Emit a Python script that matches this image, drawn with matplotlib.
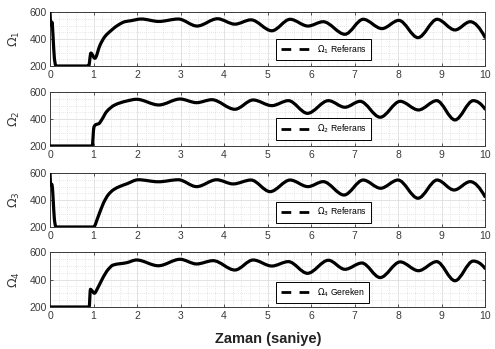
import numpy as np
import matplotlib
matplotlib.use("Agg")
import matplotlib.pyplot as plt
from matplotlib.path import Path
from matplotlib.patches import PathPatch
from matplotlib.lines import Line2D
from matplotlib.ticker import MultipleLocator

plt.rcParams['font.family'] = ['Liberation Sans', 'DejaVu Sans']
plt.rcParams['mathtext.fontset'] = 'dejavusans'

# ---- data ----
t1 = [0, 0.015, 0.03, 0.045, 0.07, 0.1, 0.13, 0.16, 0.89, 0.94, 1.03, 1.15, 1.26, 1.42, 1.57,
      1.72, 1.85, 2.1, 2.5, 2.95, 3.38, 3.85, 4.25, 4.62, 5.1, 5.52, 5.93, 6.28, 6.78, 7.2,
      7.63, 8.02, 8.46, 8.9, 9.31, 9.66, 10]
v1 = [600, 520, 500, 525, 420, 260, 205, 200, 200, 296, 257, 355, 417, 467, 504,
      528, 535, 548, 530, 548, 496, 550, 510, 542, 461, 546, 496, 528, 435, 546,
      477, 538, 410, 546, 467, 528, 413]

t2 = [0, 0.97, 1.01, 1.05, 1.12, 1.2, 1.3, 1.49, 1.76, 1.99, 2.5, 2.99, 3.37, 3.72, 4.25,
      4.67, 5.1, 5.48, 5.92, 6.4, 6.78, 7.13, 7.59, 8.05, 8.47, 8.89, 9.31, 9.73, 10]
v2 = [200, 200, 340, 358, 365, 400, 454, 504, 533, 546, 504, 548, 521, 543, 472,
      541, 499, 536, 442, 536, 487, 531, 413, 531, 467, 536, 393, 536, 474]

t3 = [0, 0.015, 0.03, 0.045, 0.07, 0.1, 0.13, 0.16, 1.0, 1.11, 1.23, 1.34, 1.46, 1.61, 1.76,
      2.03, 2.49, 2.95, 3.37, 3.83, 4.21, 4.62, 5.06, 5.52, 5.93, 6.28, 6.76, 7.2, 7.6,
      8.0, 8.46, 8.9, 9.29, 9.66, 10]
v3 = [600, 520, 510, 515, 420, 260, 205, 200, 200, 279, 378, 439, 476, 501, 519,
      550, 535, 550, 499, 550, 519, 548, 462, 548, 499, 536, 437, 548, 487,
      548, 413, 548, 474, 536, 425]

t4 = [0, 0.9, 0.93, 0.96, 1.02, 1.1, 1.21, 1.33, 1.45, 1.76, 1.99, 2.49, 2.99, 3.37, 3.75,
      4.25, 4.67, 5.1, 5.48, 5.92, 6.4, 6.78, 7.17, 7.59, 8.05, 8.47, 8.89, 9.31, 9.73, 10]
v4 = [200, 200, 329, 320, 300, 340, 409, 470, 505, 522, 542, 500, 547, 513, 537,
      469, 542, 498, 530, 445, 540, 474, 520, 414, 528, 464, 530, 391, 534, 481]

ylabels = [r'$\Omega_1$', r'$\Omega_2$', r'$\Omega_3$', r'$\Omega_4$']
legend_labels = [r'$\Omega_1$ Referans', r'$\Omega_2$ Referans',
                 r'$\Omega_3$ Referans', r'$\Omega_4$ Gereken']
xticks = list(range(0, 11))
yticks = [200, 400, 600]
xlabel = 'Zaman (saniye)'

series = [(t1, v1), (t2, v2), (t3, v3), (t4, v4)]


def pchip_slopes(x, y):
    x = np.asarray(x, float); y = np.asarray(y, float)
    h = np.diff(x); d = np.diff(y) / h
    n = len(x)
    m = np.zeros(n)
    for k in range(1, n - 1):
        if d[k - 1] * d[k] <= 0:
            m[k] = 0.0
        else:
            w1 = 2 * h[k] + h[k - 1]
            w2 = h[k] + 2 * h[k - 1]
            m[k] = (w1 + w2) / (w1 / d[k - 1] + w2 / d[k])

    def edge(h0, h1, d0, d1):
        s = ((2 * h0 + h1) * d0 - h0 * d1) / (h0 + h1)
        if np.sign(s) != np.sign(d0):
            s = 0.0
        elif np.sign(d0) != np.sign(d1) and abs(s) > abs(3 * d0):
            s = 3 * d0
        return s
    m[0] = edge(h[0], h[1], d[0], d[1])
    m[-1] = edge(h[-1], h[-2], d[-1], d[-2])
    return m


def smooth_path(x, y):
    x = np.asarray(x, float); y = np.asarray(y, float)
    m = pchip_slopes(x, y)
    verts = [(x[0], y[0])]
    codes = [Path.MOVETO]
    for i in range(len(x) - 1):
        h = x[i + 1] - x[i]
        verts += [(x[i] + h / 3, y[i] + m[i] * h / 3),
                  (x[i + 1] - h / 3, y[i + 1] - m[i + 1] * h / 3),
                  (x[i + 1], y[i + 1])]
        codes += [Path.CURVE4] * 3
    return Path(verts, codes)


W, H = 495, 349
fig = plt.figure(figsize=(W / 100, H / 100), dpi=100)

panel_px = [(12, 66), (92, 146), (173, 227), (252, 307)]
legend_anchor_y = [0.11, 0.12, 0.08, 0.07]
left_px, right_px = 50, 485
tc = '#3a3a3a'

for i, ((tt, vv), (ytop, ybot)) in enumerate(zip(series, panel_px)):
    ax = fig.add_axes([left_px / W, 1 - ybot / H, (right_px - left_px) / W, (ybot - ytop) / H])
    ax.set_xlim(0, 10)
    ax.set_ylim(200, 600)
    ax.set_xticks(xticks)
    ax.set_yticks(yticks)
    ax.xaxis.set_minor_locator(MultipleLocator(0.2))
    ax.yaxis.set_minor_locator(MultipleLocator(50))
    ax.grid(True, which='major', color='#dedede', lw=0.6, ls='-')
    ax.grid(True, which='minor', color='#d0d0d0', lw=0.5, ls=(0, (1, 2)))
    ax.set_axisbelow(True)
    ax.tick_params(which='major', direction='in', length=2.5, width=0.6, top=True, right=True,
                   labelsize=7.5, labelcolor=tc, color=tc, pad=2)
    ax.tick_params(axis='x', which='major', pad=3)
    ax.tick_params(which='minor', length=0, top=True, right=True)
    for sp in ax.spines.values():
        sp.set_color(tc)
        sp.set_linewidth(0.7)

    patch = PathPatch(smooth_path(tt, vv), fill=False, edgecolor='black', lw=2.3,
                      capstyle='round', joinstyle='round', zorder=3)
    ax.add_patch(patch)

    ax.set_ylabel(ylabels[i], fontsize=9, color=tc)
    ax.yaxis.set_label_coords(-0.065, 0.5)

    handle = Line2D([], [], color='black', lw=2.0, dashes=(3.5, 3.0))
    leg = ax.legend([handle], [legend_labels[i]], loc='lower left',
                    bbox_to_anchor=(0.52, legend_anchor_y[i]), fontsize=6.2,
                    frameon=True, fancybox=False, framealpha=1, edgecolor='black',
                    handlelength=3.3, handletextpad=0.9, borderpad=0.5, borderaxespad=0)
    leg.get_frame().set_linewidth(0.7)

fig.text(268 / W, 1 - 339 / H, xlabel, ha='center', va='center', fontsize=10.5,
         fontweight='bold', color='#222222')

fig.savefig('out.png', dpi=100)
